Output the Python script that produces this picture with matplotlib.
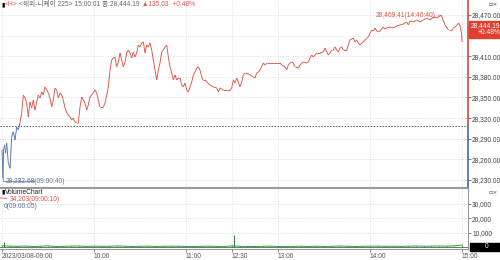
import matplotlib.pyplot as plt
import numpy as np
from matplotlib.collections import LineCollection
from matplotlib.patches import Rectangle

plt.rcParams['font.family'] = ['Liberation Sans', 'Noto Sans CJK KR', 'DejaVu Sans']

# ---- data ----
PREV_CLOSE = 28309.16
LAST = 28444.19
CHANGE = 135.03
CHANGE_PCT = 0.48
TITLE_NAME = "<해외-니케이 225>"
LAST_TIME = "15:00:01"
DATE = "2023/03/08"

price_times = [
    "09:00:00", "09:00:40", "09:01:00", "09:01:40", "09:02:20", "09:03:05", "09:04:05", "09:05:15",
    "09:06:20", "09:07:20", "09:08:30", "09:09:35", "09:10:40", "09:11:45", "09:12:50", "09:13:55",
    "09:15:00", "09:16:06", "09:17:09", "09:18:16", "09:19:22", "09:20:25", "09:21:31", "09:22:38",
    "09:23:40", "09:24:47", "09:25:53", "09:26:56", "09:28:03", "09:29:09", "09:30:12", "09:31:18",
    "09:32:25", "09:33:28", "09:34:34", "09:35:40", "09:36:43", "09:37:50", "09:38:56", "09:40:00",
    "09:41:05", "09:42:12", "09:44:21", "09:45:27", "09:46:30", "09:47:36", "09:48:43", "09:49:46",
    "09:50:52", "09:51:59", "09:53:01", "09:54:08", "09:55:14", "09:56:17", "09:57:23", "09:58:30",
    "09:59:33", "10:00:39", "10:01:46", "10:02:48", "10:03:55", "10:06:04", "10:07:10", "10:08:17",
    "10:09:20", "10:10:26", "10:11:33", "10:12:35", "10:13:42", "10:14:48", "10:15:51", "10:16:58",
    "10:18:04", "10:19:07", "10:20:13", "10:21:20", "10:22:22", "10:23:29", "10:24:35", "10:25:38",
    "10:26:45", "10:27:51", "10:28:54", "10:30:00", "10:31:07", "10:32:10", "10:33:16", "10:34:22",
    "10:35:25", "10:36:31", "10:37:38", "10:38:40", "10:39:47", "10:40:54", "10:41:56", "10:43:03",
    "10:44:09", "10:45:12", "10:46:18", "10:47:25", "10:48:28", "10:49:34", "10:50:41", "10:51:43",
    "10:52:50", "10:53:57", "10:54:59", "10:56:06", "10:57:12", "10:58:15", "10:59:21", "11:00:28",
    "11:01:30", "11:02:37", "11:03:44", "11:04:46", "11:05:53", "11:06:59", "11:08:02", "11:09:08",
    "11:10:15", "11:11:17", "11:12:24", "11:13:30", "11:15:39", "11:17:48", "11:20:00", "11:21:04",
    "11:22:10", "11:24:20", "11:26:33", "11:28:42", "11:29:48",
    "12:30:51", "12:31:58", "12:33:04", "12:34:07", "12:35:13", "12:36:20", "12:37:22", "12:38:29",
    "12:39:35", "12:41:44", "12:43:53", "12:45:00", "12:46:06", "12:47:09", "12:48:15", "12:50:25",
    "12:51:31", "12:52:38", "12:54:47", "12:56:56", "12:59:09", "13:01:18", "13:02:25", "13:04:34",
    "13:05:40", "13:06:43", "13:07:50", "13:08:56", "13:09:59", "13:11:05", "13:12:12", "13:13:14",
    "13:14:21", "13:15:27", "13:16:30", "13:18:43", "13:19:46", "13:20:52", "13:21:59", "13:23:01",
    "13:25:14", "13:27:23", "13:29:33", "13:30:39", "13:31:46", "13:32:48", "13:33:55", "13:35:01",
    "13:36:04", "13:37:10", "13:38:17", "13:39:20", "13:40:26", "13:41:33", "13:42:35", "13:44:48",
    "13:45:51", "13:46:57", "13:49:07", "13:50:13", "13:51:20", "13:52:22", "13:53:29", "13:54:35",
    "13:55:38", "13:57:51", "13:58:54", "14:00:00", "14:01:07", "14:02:10", "14:03:16", "14:04:22",
    "14:05:25", "14:06:31", "14:07:38", "14:08:40", "14:09:47", "14:10:54", "14:13:03", "14:15:12",
    "14:17:25", "14:19:34", "14:21:44", "14:23:56", "14:24:59", "14:26:06", "14:28:15", "14:30:25",
    "14:32:34", "14:34:47", "14:36:59", "14:39:08", "14:41:18", "14:43:31", "14:44:21", "14:46:40",
    "14:47:36", "14:48:55", "14:50:11", "14:51:11", "14:52:10", "14:53:29", "14:54:28", "14:55:27",
    "14:56:45", "14:57:44", "14:58:42", "14:59:41", "15:00:01",
]
prices = [
    28274, 28232.68, 28274, 28281, 28269, 28284, 28255, 28247,
    28293, 28300, 28288, 28307, 28303, 28313, 28327.5, 28353.6,
    28349.3, 28342.0, 28321.6, 28343.5, 28334.7, 28346.4, 28331.8, 28343.5,
    28353.6, 28349.3, 28358.0, 28353.6, 28365.3, 28360.9, 28356.5, 28349.3,
    28336.2, 28346.4, 28363.8, 28360.9, 28349.3, 28356.5, 28353.6, 28346.4,
    28334.7, 28327.5, 28321.6, 28317.3, 28320.2, 28314.4, 28312.9, 28312.9,
    28336.2, 28350.7, 28346.4, 28342.0, 28331.8, 28339.1, 28350.7, 28353.6,
    28356.5, 28360.9, 28356.5, 28346.4, 28336.2, 28336.2, 28342.0, 28353.6,
    28365.3, 28390.0, 28404.5, 28407.5, 28408.9, 28394.4, 28401.6, 28414.7,
    28404.5, 28394.4, 28401.6, 28414.7, 28419.1, 28414.7, 28407.5, 28416.2,
    28408.9, 28414.7, 28426.4, 28423.5, 28429.3, 28430.7, 28414.7, 28426.4,
    28423.5, 28429.3, 28419.1, 28404.5, 28390.0, 28375.5, 28390.0, 28400.2,
    28416.2, 28419.1, 28423.5, 28426.4, 28408.9, 28394.4, 28385.6, 28375.5,
    28382.7, 28375.5, 28378.4, 28378.4, 28368.2, 28365.3, 28371.1, 28360.9,
    28358.0, 28365.3, 28372.5, 28382.7, 28387.1, 28392.9, 28394.4, 28390.0,
    28379.8, 28375.5, 28375.5, 28372.5, 28368.2, 28365.3, 28363.8, 28358.0,
    28363.8, 28360.9, 28360.9, 28360.9, 28363.8,
    28375.5, 28371.1, 28378.4, 28372.5, 28365.3, 28372.5, 28382.7, 28385.6,
    28385.6, 28382.7, 28379.8, 28378.4, 28385.6, 28387.1, 28390.0, 28400.2,
    28397.3, 28400.2, 28400.2, 28400.2, 28400.2, 28400.2, 28397.3, 28394.4,
    28390.0, 28397.3, 28400.2, 28401.6, 28400.2, 28394.4, 28394.4, 28392.9,
    28397.3, 28400.2, 28401.6, 28400.2, 28401.6, 28407.5, 28411.8, 28408.9,
    28414.7, 28414.7, 28416.2, 28422.0, 28416.2, 28411.8, 28414.7, 28419.1,
    28419.1, 28423.5, 28419.1, 28416.2, 28422.0, 28423.5, 28419.1, 28419.1,
    28426.4, 28433.6, 28436.5, 28430.7, 28433.6, 28429.3, 28426.4, 28429.3,
    28430.7, 28436.5, 28438.0, 28443.8, 28448.2, 28446.7, 28451.1, 28446.7,
    28445.3, 28446.7, 28449.6, 28452.5, 28449.6, 28451.1, 28452.5, 28451.1,
    28454.0, 28455.5, 28456.9, 28459.8, 28455.5, 28461.3, 28459.8, 28462.7,
    28459.8, 28462.7, 28465.6, 28462.7, 28467.1, 28465.6, 28467.1, 28469.41,
    28462.7, 28455.5, 28451.1, 28448.2, 28448.2, 28448.2, 28451.1, 28452.5,
    28455.5, 28458.4, 28454.0, 28443.8, 28430.7,
]

# volume, one reading every 5 minutes per session, plus the two visible spikes
vol_morning = [900, 600, 500, 700, 450, 550, 800, 400, 500, 650, 700, 450, 600, 500, 550, 750,
               600, 400, 500, 650, 450, 500, 600, 550, 400, 450, 500, 600, 450, 500, 700]
vol_afternoon = [800, 500, 450, 400, 550, 600, 400, 450, 500, 550, 400, 600, 450, 500, 700, 550,
                 450, 500, 600, 650, 500, 550, 450, 600, 700, 550, 650, 700, 600, 800, 1400]
spike_times = ["09:01:15", "12:31:00"]
spike_vols = [3600, 8400]
VOL_MAX, VOL_MAX_TIME = 34203, "09:00:10"
VOL_MIN, VOL_MIN_TIME = 0, "09:00:05"

tick_times = ["09:00", "10:00", "11:00", "12:30", "13:00", "14:00", "15:00"]
price_ticks = [28230, 28260, 28290, 28320, 28350, 28380, 28410, 28440, 28470]
vol_ticks = [10000, 20000, 30000]

RED = "#dd5448"
BLUE = "#5474ab"
GRID = "#d2d2d2"
TXT = "#444444"


def to_min(s):
    """clock time -> trading minutes from 09:00, lunch 11:30-12:30 collapsed"""
    parts = [int(p) for p in s.split(":")]
    t = (parts[0] - 9) * 60 + parts[1] + (parts[2] if len(parts) > 2 else 0) / 60
    if t > 150:
        t -= 60
    return t


x = np.array([to_min(t) for t in price_times])
p = np.array(prices)

fig = plt.figure(figsize=(5, 2.6), dpi=100)
ax = fig.add_axes([0, 1 - 187 / 260, 468 / 500, 187 / 260])
axv = fig.add_axes([0, 1 - 249 / 260, 468 / 500, 61 / 260], sharex=ax)

XL = (-1.3, 303.9)
ax.set_xlim(*XL)
ax.set_ylim(28219.8, 28491.8)
axv.set_ylim(-1395, 41163)

# price line, red above previous close, blue below
pts = np.column_stack([x, p])
segs = np.stack([pts[:-1], pts[1:]], axis=1)
mid = (p[:-1] + p[1:]) / 2
cols = [RED if m >= PREV_CLOSE else BLUE for m in mid]
ax.add_collection(LineCollection(segs, colors=cols, linewidths=0.65, zorder=3))

ax.axhline(PREV_CLOSE, color="#555555", lw=0.7, ls=(0, (1.5, 1.5)), zorder=2)
ax.plot([XL[1], XL[1]], [PREV_CLOSE, ax.get_ylim()[1]], color=RED, lw=1.3, clip_on=False, zorder=5)
ax.plot([XL[1], XL[1]], [ax.get_ylim()[0], PREV_CLOSE], color=BLUE, lw=1.3, clip_on=False, zorder=5)

# high / low annotations
ih, il = int(np.argmax(p)), int(np.argmin(p))
ax.annotate(f"{p[ih]:,.2f}({price_times[ih]})", xy=(x[ih], p[ih]), xytext=(-4, 0),
            textcoords="offset points", ha="right", va="center", fontsize=4.8, color=RED,
            arrowprops=dict(arrowstyle="-", color=RED, lw=0.5, shrinkA=0, shrinkB=0))
ax.annotate(f"{p[il]:,.2f}({price_times[il]})", xy=(x[il], p[il]), xytext=(2, -2.4),
            textcoords="offset points", ha="left", va="center", fontsize=4.8, color="#5a6f9a",
            arrowprops=dict(arrowstyle="-", color="#5a6f9a", lw=0.5, shrinkA=0, shrinkB=0,
                            connectionstyle="angle,angleA=0,angleB=90,rad=0"))

# last price box
ax.annotate(f"{LAST:,.2f}\n+{CHANGE_PCT:.2f}%", xy=(XL[1], LAST), xytext=(2.2, 2.5),
            textcoords="offset points", ha="left", va="center", fontsize=4.8, color="white",
            linespacing=0.95, annotation_clip=False, zorder=10, multialignment="right",
            bbox=dict(boxstyle="square,pad=0.25", fc="#e0402f", ec="#e0402f"))

# volume
vx = [to_min(f"{9 + i * 5 // 60:02d}:{i * 5 % 60:02d}") for i in range(len(vol_morning))]
vx += [to_min(f"{12 + (30 + i * 5) // 60:02d}:{(30 + i * 5) % 60:02d}") for i in range(len(vol_afternoon))]
vv = vol_morning + vol_afternoon
axv.plot(vx, vv, color="#2e7d32", lw=0.6)
axv.vlines(vx, 0, vv, color="#2e7d32", lw=0.6)
axv.vlines([to_min(t) for t in spike_times], 0, spike_vols, color="#2e7d32", lw=0.7)
axv.axhline(0, color="#2e7d32", lw=0.6)

axv.annotate(f"{VOL_MAX:,}({VOL_MAX_TIME})", xy=(XL[0], VOL_MAX), xytext=(7, -1.2),
             textcoords="offset points", ha="left", va="center", fontsize=4.8, color=RED,
             annotation_clip=False,
             arrowprops=dict(arrowstyle="-", color=RED, lw=0.6, shrinkA=0, shrinkB=0))
axv.annotate(f"{VOL_MIN}({VOL_MIN_TIME})", xy=(XL[0], VOL_MAX), xytext=(3, -5.8),
             textcoords="offset points", ha="left", va="center", fontsize=4.8, color="#5a6f9a",
             annotation_clip=False)

# axes styling
tx = [to_min(t) for t in tick_times]
for a in (ax, axv):
    a.set_xticks(tx)
    a.grid(True, color=GRID, lw=0.6, ls=(0, (1, 2)))
    a.yaxis.tick_right()
    a.tick_params(axis="y", labelsize=4.8, labelcolor=TXT, length=2, width=0.5, pad=1, colors=TXT)
    a.spines["left"].set_visible(False)
    a.spines["top"].set_visible(False)
    a.set_axisbelow(True)

ax.spines["right"].set_visible(False)
ax.spines["bottom"].set_color("#9a9a9a")
ax.tick_params(axis="x", length=0, labelbottom=False)
ax.set_yticks(price_ticks)
# the 28,440 label sits under the last-price box
ax.set_yticklabels(["" if abs(v - LAST) < 10 else f"{v:,.2f}" for v in price_ticks])

for s in ("right", "bottom"):
    axv.spines[s].set_color("#9a9a9a")
    axv.spines[s].set_linewidth(0.8)
axv.spines["top"].set_visible(True)
axv.spines["top"].set_color("#9a9a9a")
axv.set_yticks(vol_ticks)
axv.set_yticklabels([f"{v:,}" for v in vol_ticks])
axv.set_xticklabels([f"{DATE}-{t}" if i == 0 else t for i, t in enumerate(tick_times)],
                    ha="left", fontsize=4.8, color="#333333")
axv.tick_params(axis="x", length=2, width=0.5, pad=1, colors="#555555")

# zero box on volume axis
fig.patches.append(Rectangle((470 / 500, 1 - 251 / 260), 30 / 500, 8 / 260,
                             transform=fig.transFigure, color="black"))
fig.text(487 / 500, 1 - 247 / 260, "0", ha="center", va="center", fontsize=4.8, color="white")

# header texts
t0 = fig.text(1 / 500, 1 - 4.5 / 260, "▮", fontsize=4.5, color="black", va="center",
              family="DejaVu Sans")
t1 = ax.annotate("<H>", xy=(1, 0.5), xycoords=t0, va="center", fontsize=4.8, color="#e06060",
                 annotation_clip=False)
t2 = ax.annotate(f" {TITLE_NAME} {LAST_TIME} 종:{LAST:,.2f}", xy=(1, 0.5), xycoords=t1,
                 va="center", fontsize=4.8, color="#666666", annotation_clip=False)
ax.annotate(f" ▲{CHANGE:.2f}  +{CHANGE_PCT:.2f}%", xy=(1, 0.5), xycoords=t2,
            va="center", fontsize=4.8, color=RED, annotation_clip=False)

v0 = fig.text(1 / 500, 1 - 192 / 260, "▮", fontsize=4.5, color="black", va="center",
              family="DejaVu Sans")
axv.annotate("VolumeChart", xy=(1, 0.5), xycoords=v0, va="center", fontsize=4.8, color="#222222",
             annotation_clip=False)

for yy in (4, 193):
    fig.text(498 / 500, 1 - yy / 260, "▫×", ha="right", va="center", fontsize=4.5,
             color="#555555", family="DejaVu Sans")

fig.savefig("out.png", dpi=100)
